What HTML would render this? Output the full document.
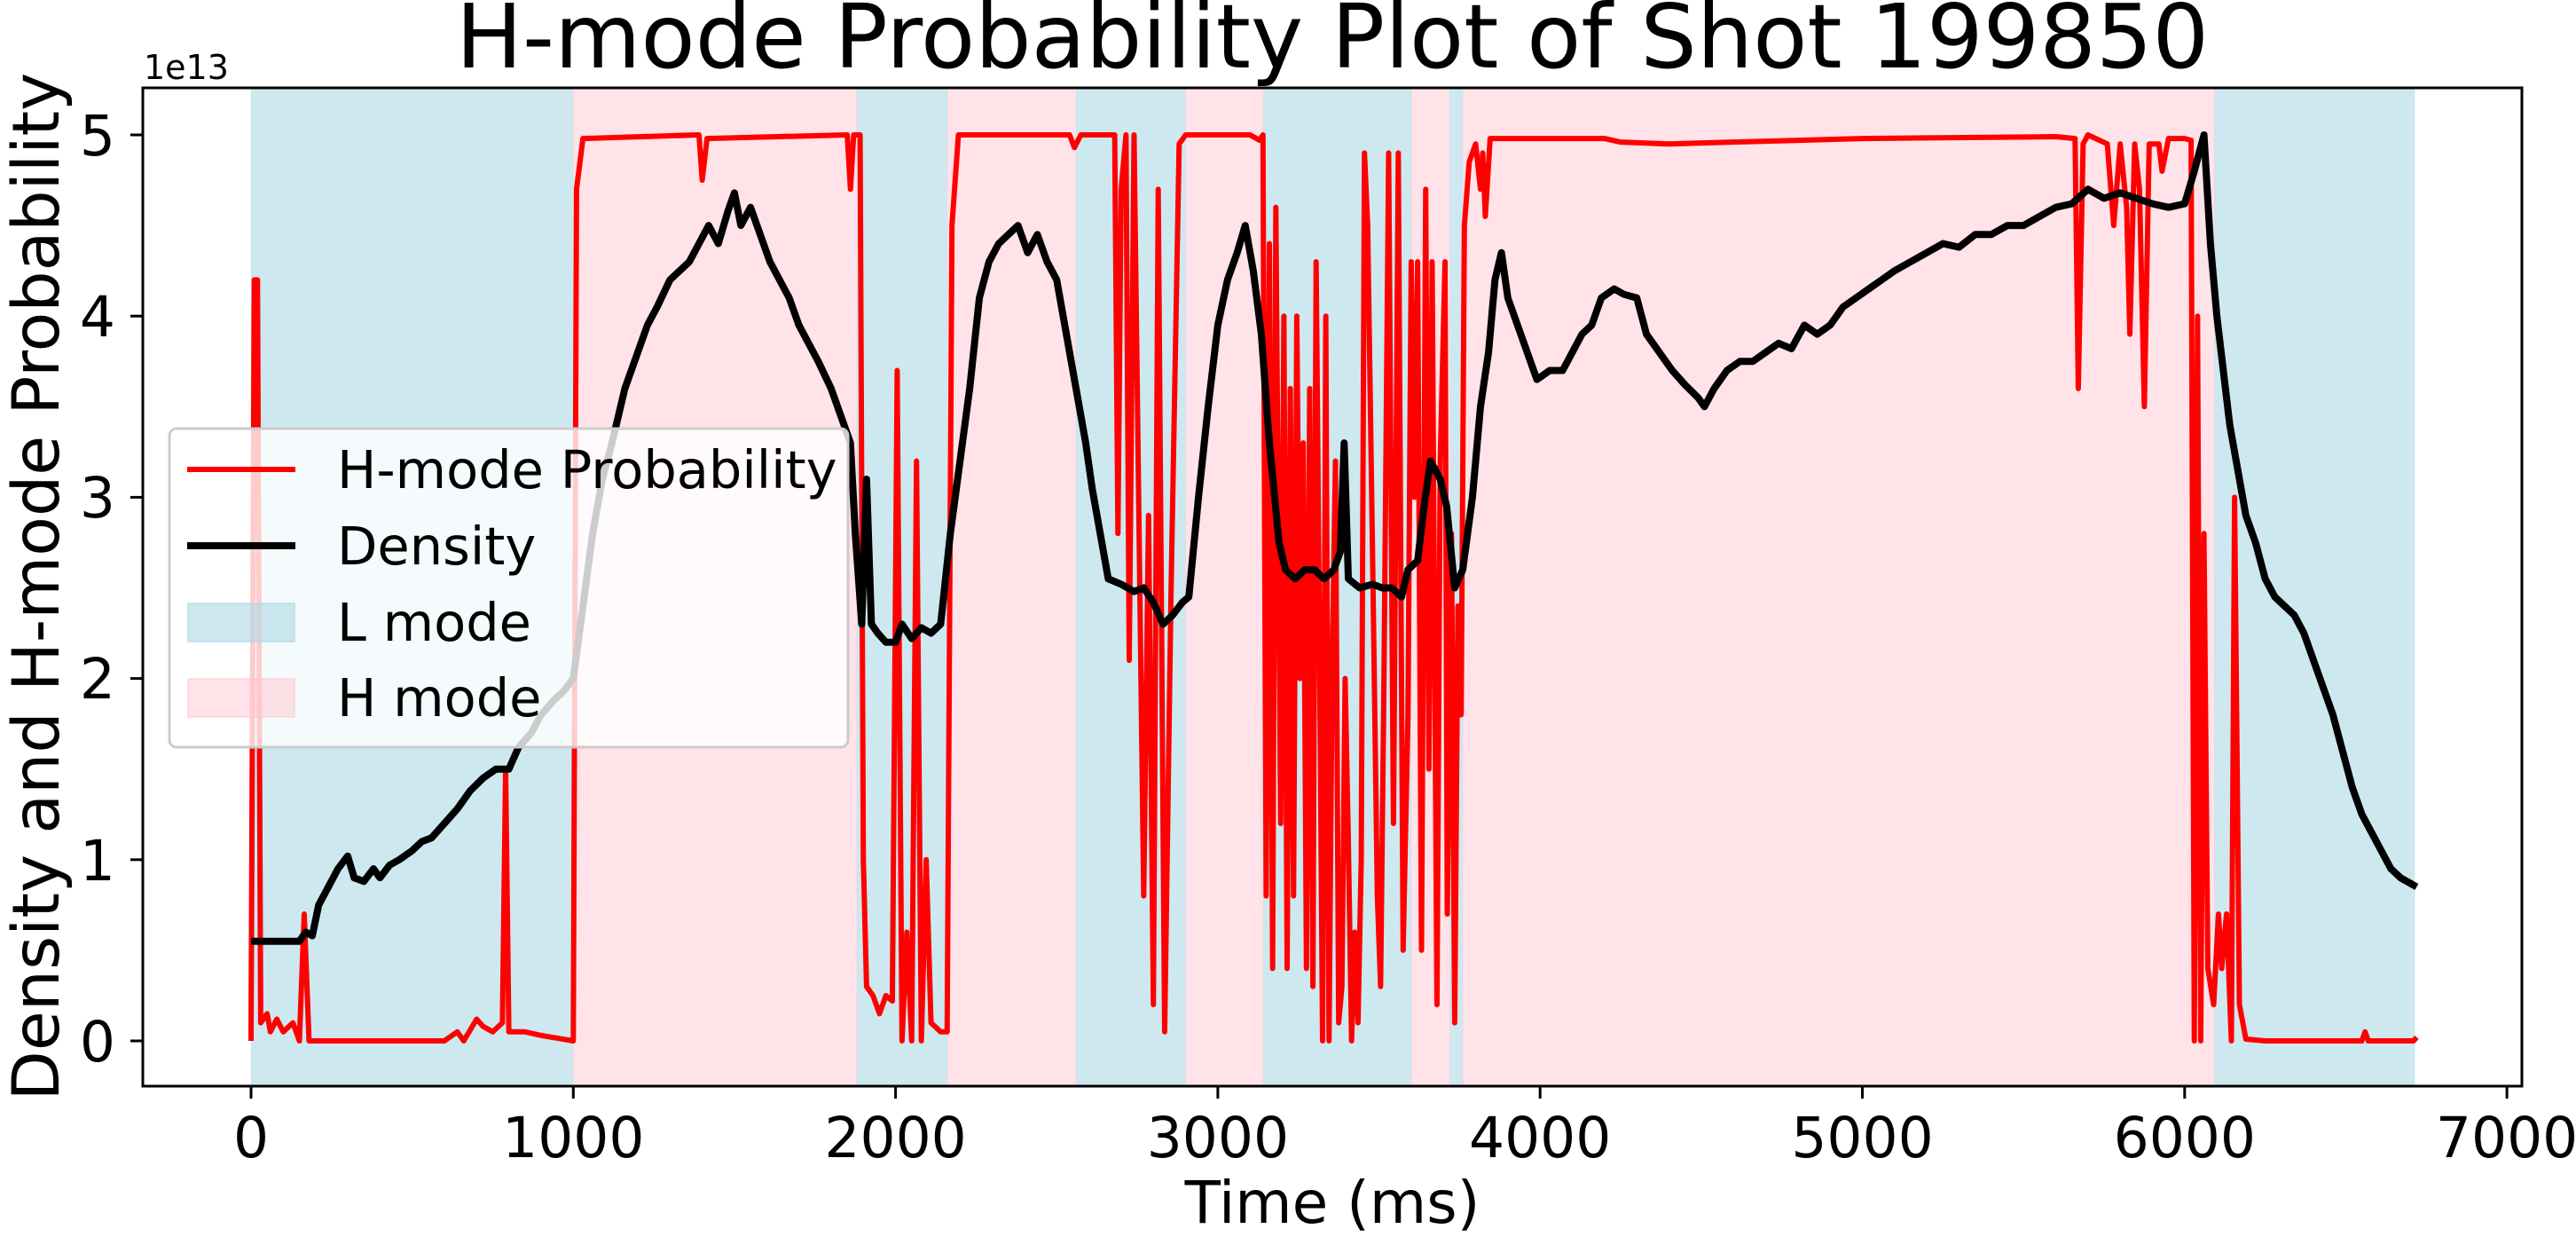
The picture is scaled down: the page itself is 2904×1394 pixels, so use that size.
<!DOCTYPE html>
<html><head><meta charset="utf-8"><style>
html,body{margin:0;padding:0;background:#fff}
svg{display:block}
text{font-family:"DejaVu Sans","Liberation Sans",sans-serif;fill:#000}
</style></head><body>
<svg width="2904" height="1394" viewBox="0 0 2904 1394" xmlns="http://www.w3.org/2000/svg">
<rect width="2904" height="1394" fill="#fff"/>
<!-- spans -->
<g transform="translate(283,0) scale(0.3633,1)">
<g fill="#add8e6" fill-opacity="0.6" stroke="#add8e6" stroke-opacity="0.6">
<rect x="0" y="99" width="1000" height="1125"/>
<rect x="1880" y="99" width="280" height="1125"/>
<rect x="2560" y="99" width="340" height="1125"/>
<rect x="3140" y="99" width="460" height="1125"/>
<rect x="3720" y="99" width="40" height="1125"/>
<rect x="6092" y="99" width="622" height="1125"/>
</g>
<g fill="#ffc0cb" fill-opacity="0.45" stroke="#ffc0cb" stroke-opacity="0.45">
<rect x="1000" y="99" width="880" height="1125"/>
<rect x="2160" y="99" width="400" height="1125"/>
<rect x="2900" y="99" width="240" height="1125"/>
<rect x="3600" y="99" width="120" height="1125"/>
<rect x="3760" y="99" width="2332" height="1125"/>
</g>
</g>
<g transform="translate(283,1173) scale(0.3633,-204.2)" fill="none" stroke-linejoin="round">
<path vector-effect="non-scaling-stroke" stroke="#f00" stroke-width="6" d="M0,0 L10,4.2 L20,4.2 L30,0.1 L50,0.15 L60,0.05 L80,0.12 L100,0.05 L130,0.1 L150,0 L165,0.7 L180,0 L300,0 L600,0 L640,0.05 L660,0 L700,0.12 L720,0.08 L750,0.05 L780,0.1 L790,1.5 L800,0.05 L850,0.05 L900,0.03 L1000,0 L1010,4.7 L1030,4.98 L1390,5 L1400,4.75 L1415,4.98 L1850,5 L1860,4.7 L1870,5 L1890,5 L1900,1.0 L1910,0.3 L1930,0.25 L1950,0.15 L1970,0.25 L1990,0.22 L2005,3.7 L2020,0.0 L2035,0.6 L2050,0 L2065,3.2 L2080,0 L2095,1.0 L2110,0.1 L2140,0.05 L2160,0.05 L2175,4.5 L2195,5 L2540,5 L2555,4.93 L2575,5 L2680,5 L2690,2.8 L2700,4.7 L2715,5 L2725,2.1 L2740,5 L2770,0.8 L2785,2.9 L2800,0.2 L2815,4.7 L2835,0.05 L2855,2.5 L2880,4.95 L2900,5 L3100,5 L3130,4.97 L3140,5 L3150,0.8 L3160,4.4 L3170,0.4 L3180,4.6 L3195,1.2 L3205,4.0 L3215,0.4 L3225,3.6 L3235,0.8 L3245,4.0 L3255,2.0 L3265,3.3 L3275,0.4 L3285,3.6 L3295,0.3 L3305,4.3 L3315,2.3 L3325,0.0 L3335,4.0 L3345,0.0 L3355,2.1 L3365,3.2 L3375,0.1 L3385,0.3 L3395,2.0 L3405,1.1 L3415,0.0 L3425,0.6 L3435,0.1 L3445,1.0 L3455,4.9 L3465,4.5 L3480,2.7 L3495,0.8 L3505,0.3 L3515,1.9 L3530,4.9 L3545,1.2 L3560,4.9 L3575,0.5 L3590,1.8 L3600,4.3 L3610,3.0 L3620,4.3 L3632,0.5 L3645,4.7 L3655,1.5 L3665,4.3 L3680,0.2 L3690,3.2 L3705,4.3 L3712,0.7 L3725,2.8 L3735,0.1 L3745,2.4 L3755,1.8 L3765,4.5 L3780,4.85 L3800,4.95 L3815,4.7 L3822,4.9 L3830,4.55 L3845,4.98 L4200,4.98 L4250,4.96 L4400,4.95 L4600,4.96 L5000,4.98 L5600,4.99 L5660,4.98 L5670,3.6 L5685,4.95 L5700,5 L5760,4.95 L5780,4.5 L5800,4.95 L5820,4.6 L5830,3.9 L5845,4.95 L5860,4.7 L5875,3.5 L5890,4.95 L5920,4.95 L5930,4.8 L5950,4.98 L6000,4.98 L6020,4.97 L6030,0 L6040,4.0 L6050,0 L6060,2.8 L6072,0.4 L6090,0.2 L6105,0.7 L6115,0.4 L6130,0.7 L6145,0.0 L6155,3.0 L6170,0.2 L6190,0.01 L6250,0 L6350,0 L6400,0 L6550,0.0 L6560,0.05 L6570,0 L6710,0 L6720,0.02"/>
<path vector-effect="non-scaling-stroke" stroke="#000" stroke-width="8" d="M0,0.55 L150,0.55 L170,0.6 L190,0.58 L210,0.75 L240,0.85 L270,0.95 L300,1.02 L320,0.9 L350,0.88 L380,0.95 L400,0.9 L430,0.97 L460,1.0 L500,1.05 L530,1.1 L560,1.12 L600,1.2 L640,1.28 L680,1.38 L720,1.45 L760,1.5 L800,1.5 L830,1.62 L870,1.7 L900,1.8 L940,1.88 L970,1.93 L1000,2.0 L1030,2.4 L1060,2.8 L1090,3.1 L1120,3.3 L1160,3.6 L1200,3.8 L1230,3.95 L1260,4.05 L1300,4.2 L1330,4.25 L1360,4.3 L1390,4.4 L1420,4.5 L1450,4.4 L1480,4.58 L1500,4.68 L1520,4.5 L1550,4.6 L1580,4.45 L1610,4.3 L1640,4.2 L1670,4.1 L1700,3.95 L1730,3.85 L1760,3.75 L1800,3.6 L1830,3.45 L1860,3.3 L1875,2.8 L1895,2.3 L1910,3.1 L1925,2.3 L1945,2.25 L1970,2.2 L2000,2.2 L2020,2.3 L2050,2.22 L2080,2.28 L2110,2.25 L2140,2.3 L2170,2.8 L2200,3.2 L2230,3.6 L2260,4.1 L2290,4.3 L2320,4.4 L2350,4.45 L2380,4.5 L2410,4.35 L2440,4.45 L2470,4.3 L2500,4.2 L2530,3.9 L2560,3.6 L2590,3.3 L2610,3.05 L2640,2.75 L2660,2.55 L2700,2.52 L2740,2.48 L2770,2.5 L2800,2.42 L2830,2.3 L2860,2.35 L2890,2.42 L2910,2.45 L2940,3.0 L2970,3.5 L3000,3.95 L3030,4.2 L3060,4.35 L3085,4.5 L3110,4.25 L3135,3.9 L3160,3.3 L3190,2.75 L3210,2.6 L3240,2.55 L3270,2.6 L3300,2.6 L3330,2.55 L3360,2.6 L3380,2.7 L3392,3.3 L3405,2.55 L3440,2.5 L3480,2.52 L3510,2.5 L3540,2.5 L3570,2.45 L3590,2.6 L3620,2.65 L3640,2.95 L3660,3.2 L3690,3.1 L3710,2.95 L3735,2.5 L3760,2.6 L3790,3.0 L3815,3.5 L3840,3.8 L3860,4.2 L3880,4.35 L3900,4.1 L3930,3.95 L3960,3.8 L3990,3.65 L4030,3.7 L4070,3.7 L4100,3.8 L4130,3.9 L4160,3.95 L4190,4.1 L4230,4.15 L4260,4.12 L4300,4.1 L4330,3.9 L4370,3.8 L4410,3.7 L4450,3.62 L4490,3.55 L4510,3.5 L4540,3.6 L4580,3.7 L4620,3.75 L4660,3.75 L4700,3.8 L4740,3.85 L4780,3.82 L4820,3.95 L4860,3.9 L4900,3.95 L4940,4.05 L4980,4.1 L5020,4.15 L5060,4.2 L5100,4.25 L5150,4.3 L5200,4.35 L5250,4.4 L5300,4.38 L5350,4.45 L5400,4.45 L5450,4.5 L5500,4.5 L5550,4.55 L5600,4.6 L5650,4.62 L5700,4.7 L5750,4.65 L5800,4.68 L5850,4.65 L5900,4.62 L5950,4.6 L6000,4.62 L6030,4.8 L6060,5.0 L6080,4.4 L6100,4.0 L6120,3.7 L6140,3.4 L6160,3.2 L6190,2.9 L6220,2.75 L6250,2.55 L6280,2.45 L6310,2.4 L6340,2.35 L6370,2.25 L6400,2.1 L6430,1.95 L6460,1.8 L6490,1.6 L6520,1.4 L6550,1.25 L6580,1.15 L6610,1.05 L6640,0.95 L6670,0.9 L6700,0.87 L6720,0.85"/>
</g>
<!-- axes frame -->
<rect x="161" y="99" width="2682" height="1125" fill="none" stroke="#000" stroke-width="3"/>
<g stroke="#000" stroke-width="3">
<line x1="283" y1="1224" x2="283" y2="1238"/>
<line x1="646.3" y1="1224" x2="646.3" y2="1238"/>
<line x1="1009.6" y1="1224" x2="1009.6" y2="1238"/>
<line x1="1372.9" y1="1224" x2="1372.9" y2="1238"/>
<line x1="1736.2" y1="1224" x2="1736.2" y2="1238"/>
<line x1="2099.5" y1="1224" x2="2099.5" y2="1238"/>
<line x1="2462.8" y1="1224" x2="2462.8" y2="1238"/>
<line x1="2826.1" y1="1224" x2="2826.1" y2="1238"/>
<line x1="147" y1="1173" x2="161" y2="1173"/>
<line x1="147" y1="968.8" x2="161" y2="968.8"/>
<line x1="147" y1="764.6" x2="161" y2="764.6"/>
<line x1="147" y1="560.4" x2="161" y2="560.4"/>
<line x1="147" y1="356.2" x2="161" y2="356.2"/>
<line x1="147" y1="152" x2="161" y2="152"/>
</g>
<g font-size="63" text-anchor="middle">
<text x="283" y="1304">0</text>
<text x="646.3" y="1304">1000</text>
<text x="1009.6" y="1304">2000</text>
<text x="1372.9" y="1304">3000</text>
<text x="1736.2" y="1304">4000</text>
<text x="2099.5" y="1304">5000</text>
<text x="2462.8" y="1304">6000</text>
<text x="2826.1" y="1304">7000</text>
</g>
<g font-size="63" text-anchor="end">
<text x="130" y="1196">0</text>
<text x="130" y="992">1</text>
<text x="130" y="787">2</text>
<text x="130" y="583">3</text>
<text x="130" y="379">4</text>
<text x="130" y="175">5</text>
</g>
<text x="162" y="89" font-size="38">1e13</text>
<text x="1502" y="76" font-size="100" text-anchor="middle">H-mode Probability Plot of Shot 199850</text>
<text x="1502" y="1378" font-size="66" text-anchor="middle">Time (ms)</text>
<text transform="translate(66,661) rotate(-90)" font-size="73" text-anchor="middle">Density and H-mode Probability</text>
<rect x="191" y="483" width="765" height="359" rx="8" fill="#fff" fill-opacity="0.8" stroke="#ccc" stroke-width="3"/>
<line x1="211" y1="529" x2="333" y2="529" stroke="#f00" stroke-width="6"/>
<line x1="211" y1="615" x2="333" y2="615" stroke="#000" stroke-width="8"/>
<rect x="212" y="680" width="120" height="43" fill="#add8e6" fill-opacity="0.6" stroke="#add8e6" stroke-opacity="0.6" stroke-width="2"/>
<rect x="212" y="765" width="120" height="43" fill="#ffc0cb" fill-opacity="0.45" stroke="#ffc0cb" stroke-opacity="0.45" stroke-width="2"/>
<g font-size="59">
<text x="380" y="550">H-mode Probability</text>
<text x="380" y="636">Density</text>
<text x="380" y="722">L mode</text>
<text x="380" y="807">H mode</text>
</g>
</svg>
</body></html>
